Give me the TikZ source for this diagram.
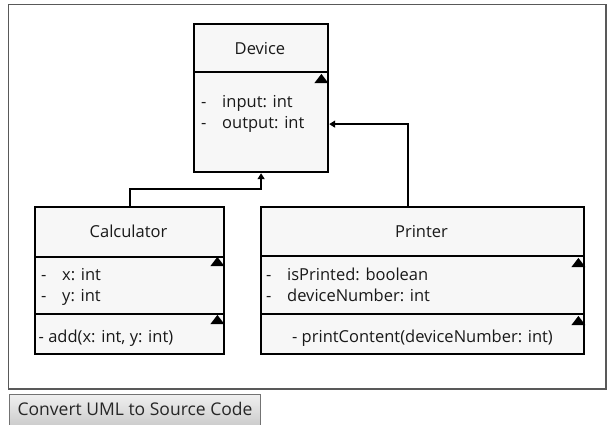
\documentclass[tikz,border=0pt]{standalone}
\usepackage{fontspec}
\setmainfont{Open Sans}
\usetikzlibrary{arrows.meta,shapes.geometric}
\tikzset{
  classbox/.style={draw=black, line width=2.2pt, fill=black!3, anchor=north west, inner sep=0pt},
  divider/.style={draw=black, line width=2.2pt},
  lbl/.style={inner sep=0pt, text height=14pt, text depth=3pt, font=\fontsize{16.5}{19}\selectfont, text=black!90},
  title/.style={lbl, anchor=center},
  member/.style={lbl, anchor=west},
  toggle/.style={isosceles triangle, isosceles triangle apex angle=75, shape border rotate=90, fill=black, inner sep=0pt, minimum height=8.5pt, minimum width=14pt, anchor=north east},
  inherit/.style={draw=black, line width=2.2pt, -{Triangle[length=6pt,width=7pt]}},
  frame/.style={draw=black!65, line width=1.5pt},
  button/.style={draw=black!55, line width=1pt, top color=black!6, bottom color=black!20, anchor=north west, inner sep=0pt}
}
\begin{document}
\begin{tikzpicture}[x=1pt,y=-1pt]
\useasboundingbox (0,0) rectangle (608,424);
\fill[white] (0,0) rectangle (608,424);

% panel frame
\draw[frame] (8.5,4.5) rectangle (606,389);

% Device class
\node[classbox, minimum width=134pt, minimum height=148pt] (device) at (193,23) {};
\draw[divider] (193,72) -- (327,72);
\node[title] (devname) at (260,49) {Device};
\node[toggle] (devtog) at (324,77) {};
\node[member] (devm1) at (201,102) {-};
\node[member] (deva1) at (222,102) {input: int};
\node[member] (devm2) at (201,123) {-};
\node[member] (deva2) at (222,123) {output: int};

% Calculator class
\node[classbox, minimum width=189pt, minimum height=147pt] (calc) at (34,206) {};
\draw[divider] (34,257) -- (223,257);
\draw[divider] (34,314) -- (223,314);
\node[title] (calcname) at (128.5,232) {Calculator};
\node[toggle] (calctog1) at (220,260) {};
\node[member] (calcm1) at (41,275) {-};
\node[member] (calca1) at (62,275) {x: int};
\node[member] (calcm2) at (41,296) {-};
\node[member] (calca2) at (62,296) {y: int};
\node[toggle] (calctog2) at (220,318) {};
\node[member] (calcop) at (38.5,337) {- add(x: int, y: int)};

% Printer class
\node[classbox, minimum width=323pt, minimum height=147pt] (printer) at (260,206) {};
\draw[divider] (260,256) -- (583,256);
\draw[divider] (260,314) -- (583,314);
\node[title] (prnname) at (421.5,232) {Printer};
\node[toggle] (prntog1) at (581,261) {};
\node[member] (prnm1) at (266,275) {-};
\node[member] (prna1) at (287,275) {isPrinted: boolean};
\node[member] (prnm2) at (266,296) {-};
\node[member] (prna2) at (287,296) {deviceNumber: int};
\node[toggle] (prntog2) at (581,319) {};
\node[title] (prnop) at (422.5,337) {- printContent(deviceNumber: int)};

% generalisation connectors
\draw[inherit] (calc.north) -- ++(0,-17) -| (device.south);
\draw[inherit] ([xshift=-14.5pt]printer.north) |- ([yshift=-26pt]device.east);

% action button
\node[button, minimum width=251pt, minimum height=31pt] (convert) at (9,394) {};
\node[lbl, font=\fontsize{17.5}{20}\selectfont, text=black!85] (convlbl) at (convert.center) {Convert UML to Source Code};
\end{tikzpicture}
\end{document}
